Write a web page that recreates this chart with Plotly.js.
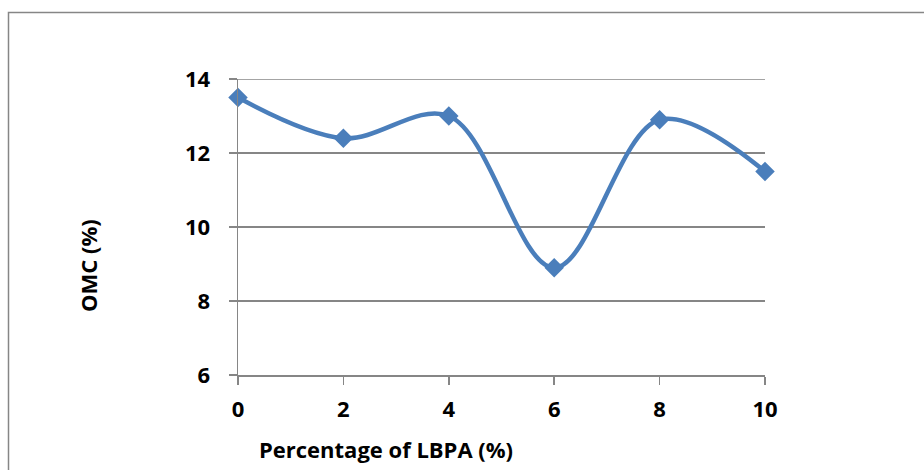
<!DOCTYPE html>
<html>
<head>
<meta charset="utf-8">
<script src="https://cdn.plot.ly/plotly-3.0.1.min.js"></script>
<style>
  html, body { margin: 0; padding: 0; background: #ffffff; }
  #chart { width: 924px; height: 470px; }
</style>
</head>
<body>
<div id="chart"></div>
<script>
// LBPA content (%) and the optimum moisture content measured at each
const lbpa = [0, 2, 4, 6, 8, 10];
const omc = [13.5, 12.4, 13.0, 8.9, 12.9, 11.5];
const xTicks = [0, 2, 4, 6, 8, 10];
const yTicks = [6, 8, 10, 12, 14];
const xTitle = 'Percentage of LBPA (%)';
const yTitle = 'OMC (%)';

const blue = '#4A7EBB';
const grey = '#868686';
const font = { family: '"Open Sans", Lato, sans-serif', size: 22, color: '#000000', weight: 700 };

const yMin = yTicks[0];
const yMax = yTicks[yTicks.length - 1];

const trace = {
  x: lbpa,
  y: omc,
  type: 'scatter',
  mode: 'lines+markers',
  line: { color: blue, width: 4.5, shape: 'spline', smoothing: 1 },
  marker: { symbol: 'diamond', size: 15, color: blue, line: { width: 0 } },
  cliponaxis: false,
  hoverinfo: 'skip'
};

const layout = {
  width: 924,
  height: 470,
  margin: { l: 238, r: 159, t: 79, b: 95 },
  paper_bgcolor: '#ffffff',
  plot_bgcolor: '#ffffff',
  showlegend: false,
  font: font,
  xaxis: {
    range: [0, 10],
    tickvals: xTicks,
    ticktext: xTicks.map(String),
    showgrid: false,
    zeroline: false,
    showline: true,
    linecolor: grey,
    linewidth: 1.5,
    ticks: 'outside',
    ticklen: 8,
    tickwidth: 1.5,
    tickcolor: grey,
    tickfont: font,
    ticklabelstandoff: 6
  },
  yaxis: {
    range: [yMin, yMax],
    tickvals: yTicks,
    ticktext: yTicks.map(String),
    showgrid: true,
    gridcolor: grey,
    gridwidth: 1.5,
    zeroline: false,
    showline: true,
    linecolor: grey,
    linewidth: 1.5,
    ticks: 'outside',
    ticklen: 8,
    tickwidth: 1.5,
    tickcolor: grey,
    tickfont: font,
    ticklabelstandoff: 14
  },
  annotations: [
    {
      text: xTitle, xref: 'paper', yref: 'paper',
      x: (386 - 238) / 527, y: (375 - 449) / 296,
      xanchor: 'center', yanchor: 'middle',
      showarrow: false, font: font
    },
    {
      text: yTitle, xref: 'paper', yref: 'paper',
      x: (88 - 238) / 527, y: (375 - 266) / 296,
      xanchor: 'center', yanchor: 'middle', textangle: -90,
      showarrow: false, font: font
    }
  ],
  shapes: [
    // outer chart frame
    {
      type: 'rect', xref: 'paper', yref: 'paper', layer: 'below',
      x0: (8.5 - 238) / 527, x1: 1.5,
      y0: -0.6, y1: (375 - 12.5) / 296,
      line: { color: grey, width: 1.5 }, fillcolor: 'rgba(0,0,0,0)'
    },
    // gridline at the top of the value range
    {
      type: 'line', xref: 'paper', yref: 'y', layer: 'below',
      x0: 0, x1: 1, y0: yMax, y1: yMax,
      line: { color: grey, width: 1.5 }
    }
  ]
};

Plotly.newPlot('chart', [trace], layout, { staticPlot: true, displayModeBar: false });
</script>
</body>
</html>
